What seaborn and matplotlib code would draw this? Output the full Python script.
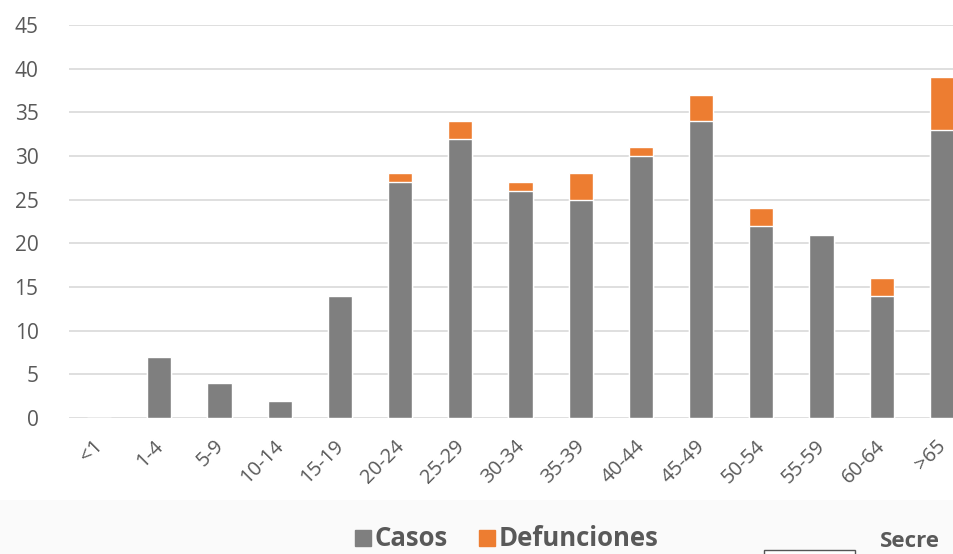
import numpy as np
import pandas as pd
import seaborn as sns
import matplotlib.pyplot as plt
import matplotlib.patches as patches
import matplotlib.transforms as mtransforms
from matplotlib.lines import Line2D

# age groups and counts
grupos = ['<1', '1-4', '5-9', '10-14', '15-19', '20-24', '25-29', '30-34',
          '35-39', '40-44', '45-49', '50-54', '55-59', '60-64', '>65']
casos = [0, 7, 4, 2, 14, 27, 32, 26, 25, 30, 34, 22, 21, 14, 33]
defunciones = [0, 0, 0, 0, 0, 1, 2, 1, 3, 1, 3, 2, 0, 2, 6]

gris = '#7f7f7f'
naranja = '#ed7d31'
texto = '#595959'

df = pd.DataFrame({'grupo': grupos, 'casos': casos, 'defunciones': defunciones})
df['total'] = df['casos'] + df['defunciones']

sns.set_style('white')
plt.rcParams['font.family'] = ['Open Sans', 'DejaVu Sans']

fig = plt.figure(figsize=(9.54, 5.54), dpi=100)
# light footer band
fig.patches.append(patches.Rectangle((0, 0), 1, 54 / 554, transform=fig.transFigure,
                                     facecolor='#fafafa', edgecolor='none', zorder=0))

# axes run past the right edge, like the cropped original
ax = fig.add_axes([69 / 954, 1 - 418 / 554, 903 / 954, 393 / 554])
ax.set_facecolor('none')

sns.barplot(data=df, x='grupo', y='total', color=naranja, width=0.4,
            saturation=1, ax=ax, zorder=3)
sns.barplot(data=df, x='grupo', y='casos', color=gris, width=0.4,
            saturation=1, ax=ax, zorder=4)

ax.set_ylim(0, 45)
ax.set_yticks(np.arange(0, 46, 5))
ax.set_xlim(-0.5, len(grupos) - 0.5)
ax.grid(axis='y', color='#d9d9d9', lw=1.2, zorder=0)
ax.grid(axis='x', visible=False)
for s in ax.spines.values():
    s.set_visible(False)
ax.set_xlabel('')
ax.set_ylabel('')
ax.tick_params(axis='y', length=0, pad=22, labelsize=15, labelcolor=texto)
ax.tick_params(axis='x', length=0, pad=13, labelsize=14.5, labelcolor=texto)
shift = mtransforms.ScaledTranslation(-6 / 100, 0, fig.dpi_scale_trans)
for lab in ax.get_xticklabels():
    lab.set_rotation(45)
    lab.set_ha('right')
    lab.set_rotation_mode('anchor')
    lab.set_transform(lab.get_transform() + shift)

handles = [Line2D([], [], marker='s', ls='none', color=gris, markersize=12),
           Line2D([], [], marker='s', ls='none', color=naranja, markersize=12)]
leg = fig.legend(handles, ['Casos', 'Defunciones'], loc='center', ncol=2,
                 bbox_to_anchor=(505 / 954, 15 / 554), frameon=False,
                 handletextpad=0.0, handlelength=0.9, columnspacing=1.1,
                 prop={'size': 18.5, 'weight': 'bold'})
for t in leg.get_texts():
    t.set_color(texto)

# logo fragment at lower right
fig.patches.append(patches.Rectangle((764 / 954, -0.02), 91 / 954, 0.028,
                                     transform=fig.transFigure, facecolor='white',
                                     edgecolor='#555555', lw=1))
fig.text(880 / 954, 2 / 554, 'Secre', fontsize=16, fontweight='bold',
         color=texto, va='bottom')

fig.savefig('out.png', dpi=100)
